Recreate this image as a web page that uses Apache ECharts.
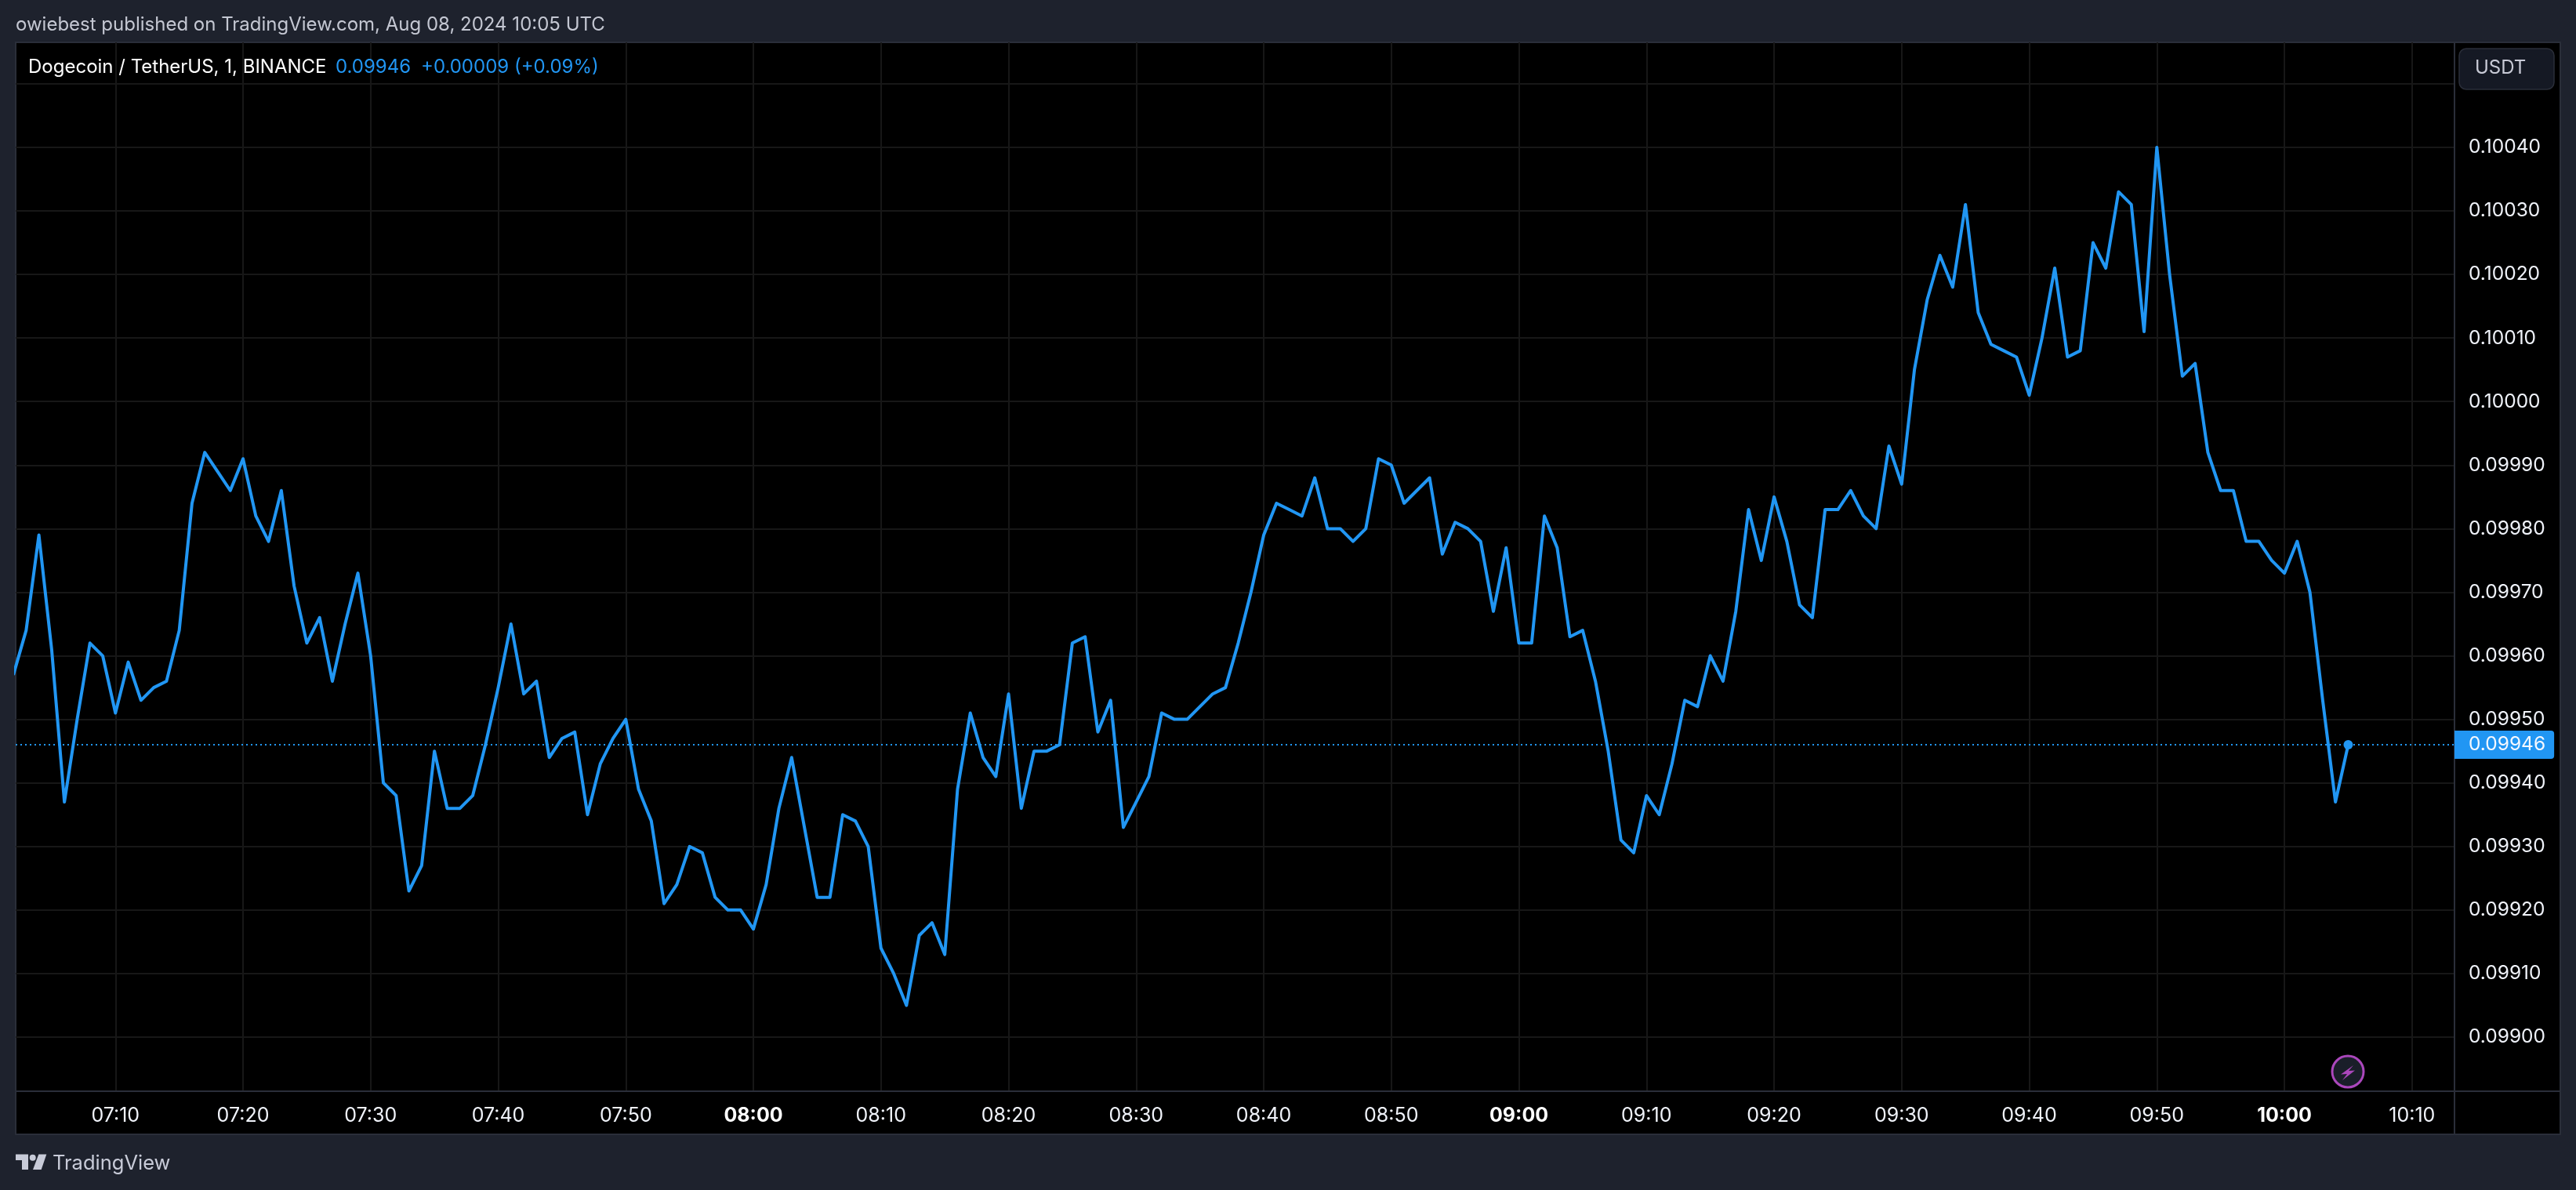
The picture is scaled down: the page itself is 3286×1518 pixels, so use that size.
<!DOCTYPE html>
<html>
<head>
<meta charset="utf-8">
<title>Dogecoin / TetherUS</title>
<script src="https://cdn.jsdelivr.net/npm/echarts@6/dist/echarts.min.js"></script>
<style>
  html, body { margin: 0; padding: 0; background: #1e222d; }
  #main { width: 3286px; height: 1518px; }
</style>
</head>
<body>
<div id="main"></div>
<script>
// first candle is 07:02, one close per minute after that (minutes since midnight on x)
const startMinute = 422;
const closes1 = [
  0.09957, 0.09964, 0.09979, 0.09961, 0.09937, 0.09950, 0.09962, 0.09960, 0.09951, 0.09959,
  0.09953, 0.09955, 0.09956, 0.09964, 0.09984, 0.09992, 0.09989, 0.09986, 0.09991, 0.09982,
  0.09978, 0.09986, 0.09971, 0.09962, 0.09966, 0.09956, 0.09965, 0.09973, 0.09960, 0.09940,
  0.09938, 0.09923, 0.09927, 0.09945, 0.09936, 0.09936, 0.09938, 0.09946, 0.09955, 0.09965,
  0.09954, 0.09956, 0.09944, 0.09947, 0.09948, 0.09935, 0.09943, 0.09947, 0.09950, 0.09939,
  0.09934, 0.09921, 0.09924, 0.09930, 0.09929, 0.09922, 0.09920, 0.09920, 0.09917, 0.09924,
  0.09936
];
const closes2 = [
  0.09944, 0.09933, 0.09922, 0.09922, 0.09935, 0.09934, 0.09930, 0.09914, 0.09910, 0.09905,
  0.09916, 0.09918, 0.09913, 0.09939, 0.09951, 0.09944, 0.09941, 0.09954, 0.09936, 0.09945,
  0.09945, 0.09946, 0.09962, 0.09963, 0.09948, 0.09953, 0.09933, 0.09937, 0.09941, 0.09951,
  0.09950, 0.09950, 0.09952, 0.09954, 0.09955, 0.09962, 0.09970, 0.09979, 0.09984, 0.09983,
  0.09982, 0.09988, 0.09980, 0.09980, 0.09978, 0.09980, 0.09991, 0.09990, 0.09984, 0.09986,
  0.09988, 0.09976, 0.09981, 0.09980, 0.09978, 0.09967, 0.09977, 0.09962, 0.09962, 0.09982,
  0.09977
];
const closes3 = [
  0.09963, 0.09964, 0.09956, 0.09945, 0.09931, 0.09929, 0.09938, 0.09935, 0.09943, 0.09953,
  0.09952, 0.09960, 0.09956, 0.09967, 0.09983, 0.09975, 0.09985, 0.09978, 0.09968, 0.09966,
  0.09983, 0.09983, 0.09986, 0.09982, 0.09980, 0.09993, 0.09987, 0.10005, 0.10016, 0.10023,
  0.10018, 0.10031, 0.10014, 0.10009, 0.10008, 0.10007, 0.10001, 0.10010, 0.10021, 0.10007,
  0.10008, 0.10025, 0.10021, 0.10033, 0.10031, 0.10011, 0.10040, 0.10020, 0.10004, 0.10006,
  0.09992, 0.09986, 0.09986, 0.09978, 0.09978, 0.09975, 0.09973, 0.09978, 0.09970, 0.09953,
  0.09937, 0.09946
];
const closes = closes1.concat(closes2, closes3);

// gridlines every 10 minutes and 0.0001, 0.10050 has a line but sits behind the USDT button
const timeTicks = [430, 440, 450, 460, 470, 480, 490, 500, 510, 520, 530, 540, 550, 560, 570, 580, 590, 600, 610];
const boldTicks = [480, 540, 600];
const priceLines = [0.099, 0.0991, 0.0992, 0.0993, 0.0994, 0.0995, 0.0996, 0.0997, 0.0998, 0.0999, 0.1, 0.1001, 0.1002, 0.1003, 0.1004, 0.1005];
const priceLabels = priceLines.slice(0, -1);

const lastPrice = closes[closes.length - 1];
const lastMinute = startMinute + closes.length - 1;
const seriesData = closes.map((c, i) => [startMinute + i, c]);

const BLUE = "#2196f3";
const FONT = "Inter";

function hhmm(m) {
  const h = Math.floor(m / 60);
  const mm = m % 60;
  return String(h).padStart(2, "0") + ":" + String(mm).padStart(2, "0");
}

var myChart = echarts.init(document.getElementById("main"));

const option = {
  animation: false,
  backgroundColor: "#1e222d",
  textStyle: { fontFamily: FONT },
  title: [
    { text: "owiebest published on TradingView.com, Aug 08, 2024 10:05 UTC", left: 20, top: 20, padding: 0, textStyle: { color: "#c4c7d2", fontSize: 24, fontWeight: "normal", fontFamily: FONT } },
    { text: "Dogecoin / TetherUS, 1, BINANCE", left: 36, top: 74, padding: 0, textStyle: { color: "#ffffff", fontSize: 24, fontWeight: "normal", fontFamily: FONT } },
    { text: "0.09946", left: 428, top: 74, padding: 0, textStyle: { color: BLUE, fontSize: 24, fontWeight: "normal", fontFamily: FONT } },
    { text: "+0.00009 (+0.09%)", left: 537, top: 74, padding: 0, textStyle: { color: BLUE, fontSize: 24, fontWeight: "normal", fontFamily: FONT } },
  ],
  grid: { left: 20, top: 54, width: 3111, height: 1338 },
  xAxis: {
    type: "value",
    min: 422.18,
    max: 613.33,
    axisLine: { show: true, lineStyle: { color: "#2a2e39", width: 2 } },
    axisTick: { show: false, customValues: timeTicks },
    splitLine: { show: true, lineStyle: { color: "#171717", width: 2 } },
    axisLabel: {
      customValues: timeTicks,
      margin: 19,
      fontSize: 25,
      color: "#f0f3fa",
      fontFamily: FONT,
      formatter: function (v) {
        return boldTicks.indexOf(v) >= 0 ? "{b|" + hhmm(v) + "}" : hhmm(v);
      },
      rich: { b: { fontSize: 25, fontWeight: "bold", color: "#ffffff", fontFamily: FONT } },
    },
  },
  yAxis: {
    type: "value",
    position: "right",
    min: 0.0989149,
    max: 0.1005652,
    axisLine: { show: true, onZero: false, lineStyle: { color: "#2a2e39", width: 2 } },
    axisTick: { show: false, customValues: priceLines },
    splitLine: { show: true, lineStyle: { color: "#171717", width: 2 } },
    axisLabel: {
      customValues: priceLabels,
      margin: 18,
      fontSize: 24.5,
      color: "#f0f3fa",
      fontFamily: FONT,
      padding: [2, 0, 0, 0],
      formatter: function (v) {
        return v.toFixed(5);
      },
    },
  },
  series: [
    {
      name: "DOGEUSDT",
      type: "line",
      data: seriesData,
      showSymbol: false,
      clip: true,
      lineStyle: { color: BLUE, width: 4, join: "round" },
      itemStyle: { color: BLUE },
      markLine: {
        silent: true,
        symbol: "none",
        animation: false,
        precision: 5,
        lineStyle: { color: BLUE, type: [2, 4], width: 2 },
        label: {
          position: "end",
          distance: 0,
          formatter: function (p) {
            return Number(p.value).toFixed(5);
          },
          color: "#f5f8ff",
          fontSize: 24.5,
          fontFamily: FONT,
          backgroundColor: BLUE,
          padding: [6, 11, 5, 18],
          borderRadius: [0, 4, 4, 0],
        },
        data: [{ yAxis: lastPrice }],
      },
      markPoint: {
        silent: true,
        animation: false,
        symbol: "circle",
        symbolSize: 12,
        itemStyle: { color: BLUE },
        label: { show: false },
        data: [{ coord: [lastMinute, lastPrice] }],
      },
    },
  ],
  graphic: [
    // chart panel behind the grid
    { type: "rect", z: -10, shape: { x: 20, y: 54, width: 3246, height: 1393 }, style: { fill: "#000", stroke: "#2a2e39", lineWidth: 2 } },
    { type: "line", z: 1, shape: { x1: 3131, y1: 1392, x2: 3131, y2: 1447 }, style: { stroke: "#2a2e39", lineWidth: 2 } },
    { type: "line", z: 1, shape: { x1: 3131, y1: 1392, x2: 3266, y2: 1392 }, style: { stroke: "#2a2e39", lineWidth: 2 } },
    // currency button
    { type: "rect", z: 5, shape: { x: 3137, y: 62, width: 121, height: 52, r: 9 }, style: { fill: "#151924", stroke: "#2a2e39", lineWidth: 1.5 } },
    { type: "text", z: 6, style: { text: "USDT", x: 3157, y: 87, fill: "#c8cad6", fontSize: 24, fontFamily: FONT, verticalAlign: "middle" } },
    // lightning badge
    { type: "circle", z: 5, shape: { cx: 2995, cy: 1367, r: 20 }, style: { fill: "#1a1e29", stroke: "#ab47bc", lineWidth: 3 } },
    { type: "polygon", z: 6, shape: { points: [[3002, 1359], [2986, 1370.5], [2994, 1370], [2988, 1378], [3004, 1365.5], [2996, 1366]] }, style: { fill: "#ab47bc" } },
    // footer logo
    { type: "polygon", z: 5, shape: { points: [[20, 1472.5], [36, 1472.5], [36, 1492], [28, 1492], [28, 1480], [20, 1480]] }, style: { fill: "#c8cbd8" } },
    { type: "circle", z: 5, shape: { cx: 41.7, cy: 1476.7, r: 4 }, style: { fill: "#c8cbd8" } },
    { type: "polygon", z: 5, shape: { points: [[49.3, 1472.5], [59.3, 1472.5], [52.7, 1492], [42, 1492]] }, style: { fill: "#c8cbd8" } },
    { type: "text", z: 5, style: { text: "TradingView", x: 67, y: 1484, fill: "#c8cbd8", fontSize: 25.5, fontFamily: FONT, verticalAlign: "middle" } },
  ],
};

myChart.setOption(option, true);
window.addEventListener("resize", function () {
  myChart.resize();
});
</script>
</body>
</html>
